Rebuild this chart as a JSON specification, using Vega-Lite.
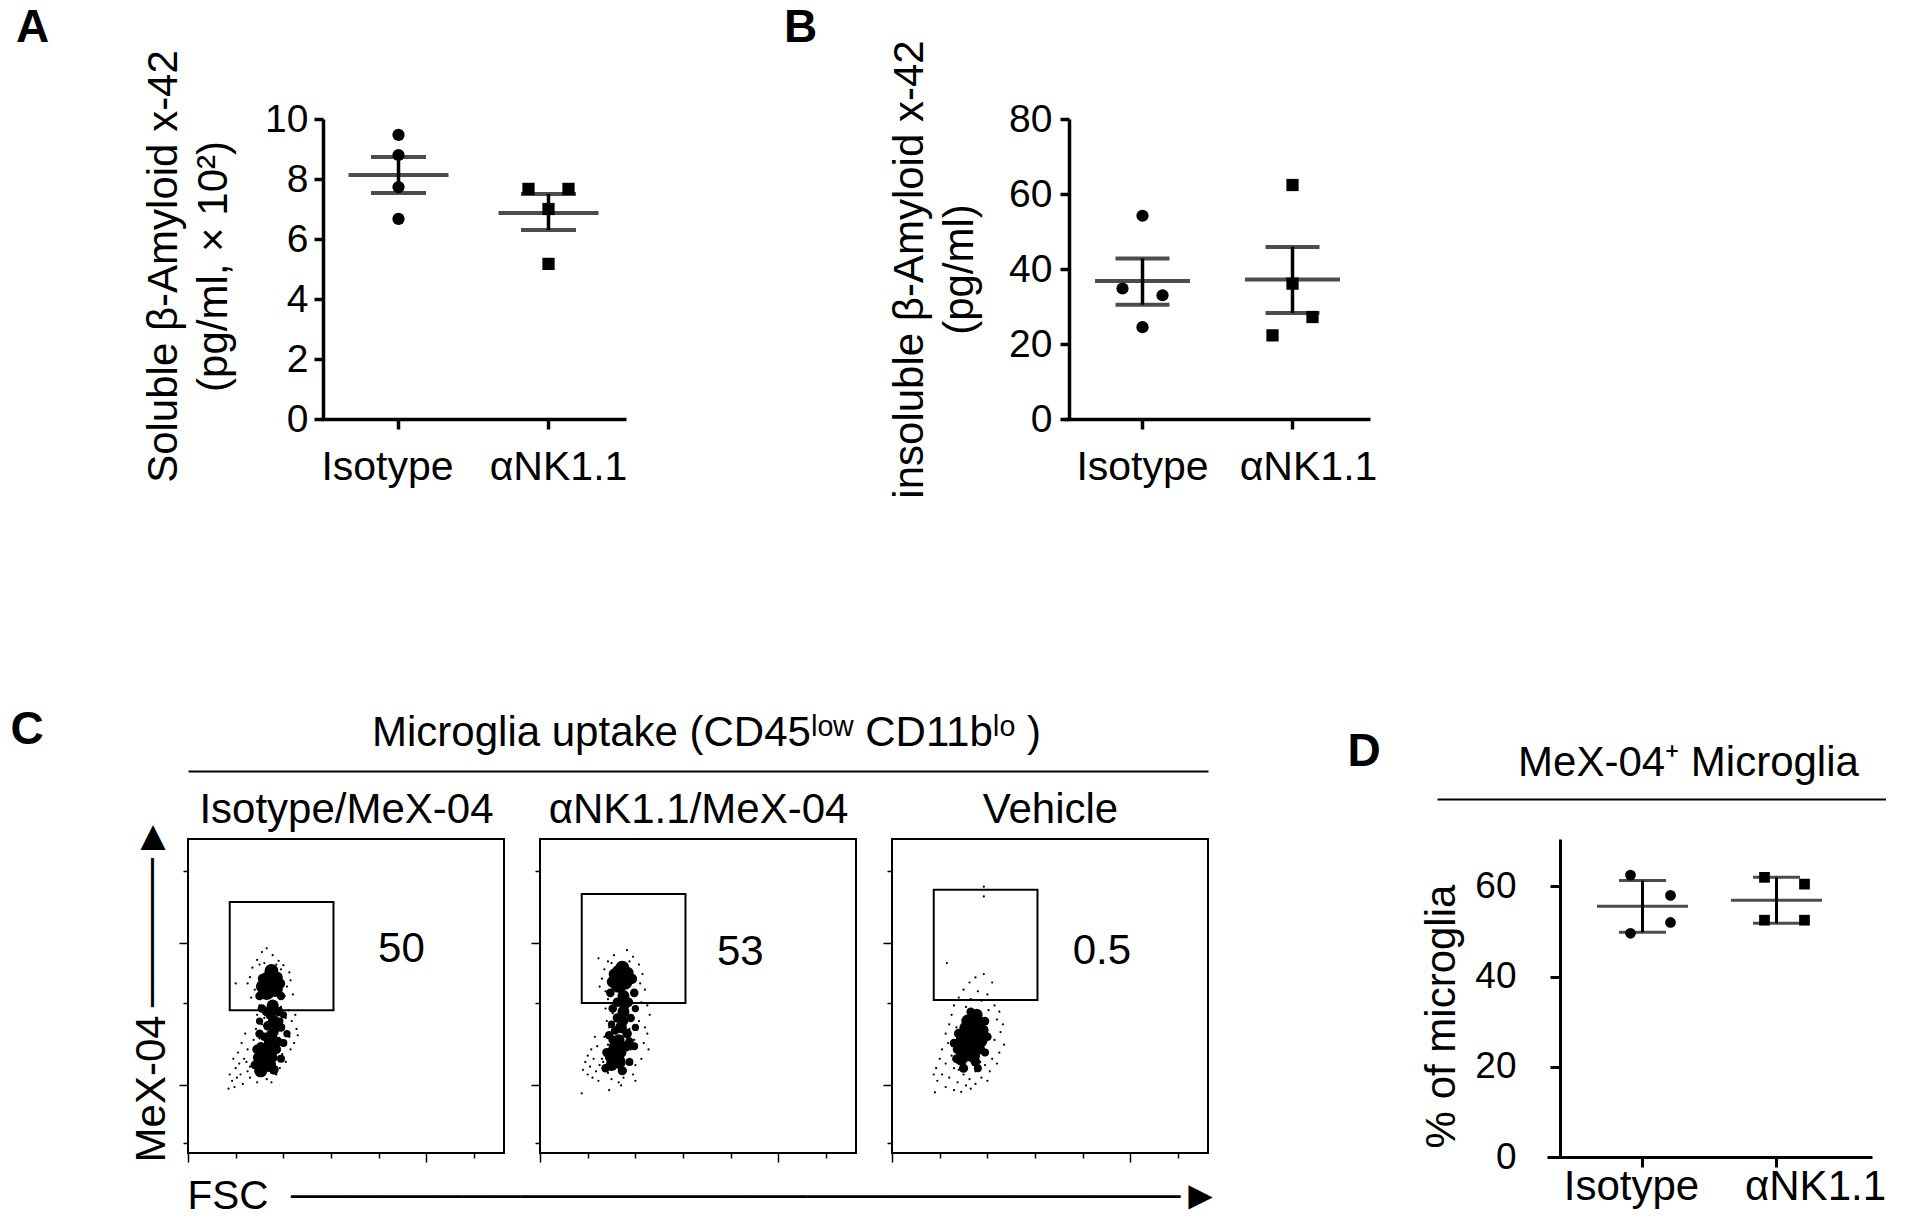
{
  "$schema": "https://vega.github.io/schema/vega-lite/v6.json",
  "background": "white",
  "padding": {"left": 10, "top": 5, "right": 0, "bottom": 0},
  "config": {
    "font": "Liberation Sans",
    "view": {"stroke": null},
    "axis": {"grid": false, "domainColor": "black", "tickColor": "black", "labelColor": "black", "titleColor": "black", "titleFontWeight": "normal", "labelFont": "Liberation Sans", "titleFont": "Liberation Sans"},
    "title": {"color": "black", "font": "Liberation Sans"}
  },
  "datasets": {
    "ptsA": [
      {"g": "Isotype", "c": 0, "v": 9.47}, {"g": "Isotype", "c": 0, "v": 8.8}, {"g": "Isotype", "c": 0, "v": 7.73}, {"g": "Isotype", "c": 0, "v": 6.67},
      {"g": "αNK1.1", "c": -1, "v": 7.67}, {"g": "αNK1.1", "c": 1, "v": 7.67}, {"g": "αNK1.1", "c": 0, "v": 7.0}, {"g": "αNK1.1", "c": 0, "v": 5.17}
    ],
    "sumA": [
      {"g": "Isotype", "mean": 8.13, "lo": 7.53, "hi": 8.73},
      {"g": "αNK1.1", "mean": 6.87, "lo": 6.3, "hi": 7.5}
    ],
    "ptsB": [
      {"g": "Isotype", "c": 0, "v": 54.2}, {"g": "Isotype", "c": -1, "v": 34.8}, {"g": "Isotype", "c": 1, "v": 33.0}, {"g": "Isotype", "c": 0, "v": 24.5},
      {"g": "αNK1.1", "c": 0, "v": 62.4}, {"g": "αNK1.1", "c": 0, "v": 36.1}, {"g": "αNK1.1", "c": 1, "v": 27.2}, {"g": "αNK1.1", "c": -1, "v": 22.3}
    ],
    "sumB": [
      {"g": "Isotype", "mean": 36.8, "lo": 30.5, "hi": 42.8},
      {"g": "αNK1.1", "mean": 37.2, "lo": 28.3, "hi": 45.9}
    ],
    "ptsD": [
      {"g": "Isotype", "c": -1, "v": 62.5}, {"g": "Isotype", "c": 1, "v": 58.0}, {"g": "Isotype", "c": 1, "v": 52.0}, {"g": "Isotype", "c": -1, "v": 49.6},
      {"g": "αNK1.1", "c": -1, "v": 62.0}, {"g": "αNK1.1", "c": 1, "v": 60.5}, {"g": "αNK1.1", "c": -1, "v": 52.5}, {"g": "αNK1.1", "c": 1, "v": 52.5}
    ],
    "sumD": [
      {"g": "Isotype", "mean": 55.6, "lo": 49.8, "hi": 61.3},
      {"g": "αNK1.1", "mean": 56.9, "lo": 51.8, "hi": 62.0}
    ],
    "gates": [
      {"p": "iso", "f1": 35, "f2": 122, "m1": 455, "m2": 799, "lf": 179, "lm": 650, "pct": "50"},
      {"p": "nk", "f1": 35, "f2": 122, "m1": 478, "m2": 825, "lf": 168, "lm": 640, "pct": "53"},
      {"p": "veh", "f1": 35, "f2": 122, "m1": 487, "m2": 838, "lf": 176, "lm": 643, "pct": "0.5"}
    ],
    "blobs": [
      {"p": "iso", "f": 69, "m": 545, "n": 50}, {"p": "iso", "f": 66, "m": 515, "n": 30}, {"p": "iso", "f": 73, "m": 522, "n": 25}, {"p": "iso", "f": 70, "m": 580, "n": 20}, {"p": "iso", "f": 75, "m": 560, "n": 12}, {"p": "iso", "f": 63, "m": 555, "n": 12}, {"p": "iso", "f": 62, "m": 530, "n": 15}, {"p": "iso", "f": 77, "m": 540, "n": 12},
      {"p": "iso", "f": 71, "m": 470, "n": 15}, {"p": "iso", "f": 76, "m": 450, "n": 10}, {"p": "iso", "f": 66, "m": 450, "n": 10}, {"p": "iso", "f": 72, "m": 420, "n": 15}, {"p": "iso", "f": 78, "m": 400, "n": 8}, {"p": "iso", "f": 67, "m": 405, "n": 10}, {"p": "iso", "f": 70, "m": 375, "n": 14}, {"p": "iso", "f": 75, "m": 355, "n": 10}, {"p": "iso", "f": 64, "m": 370, "n": 8},
      {"p": "iso", "f": 62, "m": 460, "n": 8}, {"p": "iso", "f": 80, "m": 440, "n": 6}, {"p": "iso", "f": 60, "m": 420, "n": 6}, {"p": "iso", "f": 83, "m": 380, "n": 6}, {"p": "iso", "f": 61, "m": 340, "n": 8}, {"p": "iso", "f": 74, "m": 330, "n": 10}, {"p": "iso", "f": 77, "m": 420, "n": 6}, {"p": "iso", "f": 69, "m": 440, "n": 10}, {"p": "iso", "f": 73, "m": 395, "n": 10}, {"p": "iso", "f": 68, "m": 350, "n": 12},
      {"p": "iso", "f": 60, "m": 500, "n": 8}, {"p": "iso", "f": 78, "m": 500, "n": 8}, {"p": "iso", "f": 60, "m": 380, "n": 8}, {"p": "iso", "f": 80, "m": 350, "n": 7}, {"p": "iso", "f": 58, "m": 330, "n": 10}, {"p": "iso", "f": 78, "m": 300, "n": 7}, {"p": "iso", "f": 56, "m": 280, "n": 8}, {"p": "iso", "f": 72, "m": 265, "n": 10},
      {"p": "iso", "f": 66, "m": 320, "n": 30}, {"p": "iso", "f": 63, "m": 290, "n": 40}, {"p": "iso", "f": 68, "m": 280, "n": 20}, {"p": "iso", "f": 61, "m": 262, "n": 18}, {"p": "iso", "f": 70, "m": 305, "n": 15}, {"p": "iso", "f": 58, "m": 305, "n": 8},
      {"p": "nk", "f": 68, "m": 565, "n": 50}, {"p": "nk", "f": 66, "m": 538, "n": 30}, {"p": "nk", "f": 71, "m": 545, "n": 25}, {"p": "nk", "f": 69, "m": 590, "n": 20}, {"p": "nk", "f": 74, "m": 575, "n": 12}, {"p": "nk", "f": 62, "m": 570, "n": 12}, {"p": "nk", "f": 61, "m": 545, "n": 15}, {"p": "nk", "f": 77, "m": 555, "n": 12},
      {"p": "nk", "f": 70, "m": 500, "n": 15}, {"p": "nk", "f": 74, "m": 480, "n": 10}, {"p": "nk", "f": 65, "m": 480, "n": 10}, {"p": "nk", "f": 70, "m": 450, "n": 15}, {"p": "nk", "f": 76, "m": 430, "n": 8}, {"p": "nk", "f": 65, "m": 430, "n": 10}, {"p": "nk", "f": 68, "m": 400, "n": 14}, {"p": "nk", "f": 73, "m": 380, "n": 10}, {"p": "nk", "f": 63, "m": 390, "n": 8}, {"p": "nk", "f": 66, "m": 360, "n": 14},
      {"p": "nk", "f": 61, "m": 460, "n": 8}, {"p": "nk", "f": 80, "m": 460, "n": 6}, {"p": "nk", "f": 60, "m": 410, "n": 6}, {"p": "nk", "f": 80, "m": 400, "n": 6}, {"p": "nk", "f": 71, "m": 470, "n": 10}, {"p": "nk", "f": 75, "m": 355, "n": 8}, {"p": "nk", "f": 61, "m": 360, "n": 8}, {"p": "nk", "f": 70, "m": 420, "n": 10}, {"p": "nk", "f": 72, "m": 340, "n": 12},
      {"p": "nk", "f": 59, "m": 510, "n": 8}, {"p": "nk", "f": 79, "m": 510, "n": 8}, {"p": "nk", "f": 58, "m": 375, "n": 8}, {"p": "nk", "f": 79, "m": 340, "n": 7}, {"p": "nk", "f": 56, "m": 320, "n": 9}, {"p": "nk", "f": 75, "m": 290, "n": 7}, {"p": "nk", "f": 55, "m": 270, "n": 8}, {"p": "nk", "f": 69, "m": 262, "n": 9},
      {"p": "nk", "f": 64, "m": 335, "n": 25}, {"p": "nk", "f": 62, "m": 310, "n": 35}, {"p": "nk", "f": 66, "m": 290, "n": 20}, {"p": "nk", "f": 60, "m": 280, "n": 15}, {"p": "nk", "f": 68, "m": 320, "n": 12}, {"p": "nk", "f": 59, "m": 300, "n": 8},
      {"p": "veh", "f": 67, "m": 380, "n": 70}, {"p": "veh", "f": 65, "m": 345, "n": 50}, {"p": "veh", "f": 70, "m": 410, "n": 40}, {"p": "veh", "f": 62, "m": 320, "n": 35}, {"p": "veh", "f": 73, "m": 360, "n": 30}, {"p": "veh", "f": 60, "m": 360, "n": 25},
      {"p": "veh", "f": 71, "m": 440, "n": 15}, {"p": "veh", "f": 58, "m": 300, "n": 18}, {"p": "veh", "f": 76, "m": 390, "n": 15}, {"p": "veh", "f": 64, "m": 420, "n": 20}, {"p": "veh", "f": 68, "m": 310, "n": 20}, {"p": "veh", "f": 55, "m": 330, "n": 10},
      {"p": "veh", "f": 56, "m": 380, "n": 10}, {"p": "veh", "f": 78, "m": 420, "n": 8}, {"p": "veh", "f": 74, "m": 330, "n": 10}, {"p": "veh", "f": 61, "m": 400, "n": 12}, {"p": "veh", "f": 66, "m": 450, "n": 8}, {"p": "veh", "f": 70, "m": 290, "n": 10},
      {"p": "veh", "f": 52, "m": 350, "n": 8}, {"p": "veh", "f": 80, "m": 370, "n": 8}, {"p": "veh", "f": 54, "m": 300, "n": 8}, {"p": "veh", "f": 78, "m": 320, "n": 7}, {"p": "veh", "f": 60, "m": 270, "n": 9}, {"p": "veh", "f": 72, "m": 270, "n": 7}
    ],
    "specks": [
      {"p": "iso", "f": 62, "m": 640}, {"p": "iso", "f": 66, "m": 652}, {"p": "iso", "f": 71, "m": 630}, {"p": "iso", "f": 58, "m": 615}, {"p": "iso", "f": 76, "m": 612}, {"p": "iso", "f": 80, "m": 598}, {"p": "iso", "f": 54, "m": 590}, {"p": "iso", "f": 85, "m": 575}, {"p": "iso", "f": 60, "m": 600}, {"p": "iso", "f": 74, "m": 600}, {"p": "iso", "f": 52, "m": 560}, {"p": "iso", "f": 86, "m": 550}, {"p": "iso", "f": 83, "m": 530}, {"p": "iso", "f": 56, "m": 520}, {"p": "iso", "f": 88, "m": 505}, {"p": "iso", "f": 53, "m": 495}, {"p": "iso", "f": 81, "m": 500}, {"p": "iso", "f": 64, "m": 605}, {"p": "iso", "f": 78, "m": 585}, {"p": "iso", "f": 50, "m": 540}, {"p": "iso", "f": 40, "m": 540},
      {"p": "iso", "f": 60, "m": 470}, {"p": "iso", "f": 78, "m": 465}, {"p": "iso", "f": 84, "m": 455}, {"p": "iso", "f": 90, "m": 440}, {"p": "iso", "f": 58, "m": 440}, {"p": "iso", "f": 66, "m": 455}, {"p": "iso", "f": 87, "m": 420}, {"p": "iso", "f": 62, "m": 410}, {"p": "iso", "f": 80, "m": 400}, {"p": "iso", "f": 91, "m": 395}, {"p": "iso", "f": 57, "m": 395}, {"p": "iso", "f": 75, "m": 380}, {"p": "iso", "f": 85, "m": 370}, {"p": "iso", "f": 60, "m": 365}, {"p": "iso", "f": 89, "m": 350}, {"p": "iso", "f": 70, "m": 410}, {"p": "iso", "f": 64, "m": 430}, {"p": "iso", "f": 82, "m": 430}, {"p": "iso", "f": 77, "m": 345}, {"p": "iso", "f": 92, "m": 375}, {"p": "iso", "f": 55, "m": 360}, {"p": "iso", "f": 86, "m": 330}, {"p": "iso", "f": 72, "m": 370},
      {"p": "iso", "f": 55, "m": 330}, {"p": "iso", "f": 79, "m": 315}, {"p": "iso", "f": 82, "m": 290}, {"p": "iso", "f": 57, "m": 300}, {"p": "iso", "f": 77, "m": 270}, {"p": "iso", "f": 52, "m": 275}, {"p": "iso", "f": 74, "m": 250}, {"p": "iso", "f": 60, "m": 245}, {"p": "iso", "f": 66, "m": 235}, {"p": "iso", "f": 70, "m": 225}, {"p": "iso", "f": 58, "m": 225}, {"p": "iso", "f": 80, "m": 300},
      {"p": "iso", "f": 48, "m": 380}, {"p": "iso", "f": 45, "m": 350}, {"p": "iso", "f": 50, "m": 330}, {"p": "iso", "f": 42, "m": 320}, {"p": "iso", "f": 38, "m": 300}, {"p": "iso", "f": 47, "m": 300}, {"p": "iso", "f": 40, "m": 270}, {"p": "iso", "f": 35, "m": 250}, {"p": "iso", "f": 44, "m": 250}, {"p": "iso", "f": 50, "m": 260}, {"p": "iso", "f": 37, "m": 230}, {"p": "iso", "f": 46, "m": 220}, {"p": "iso", "f": 39, "m": 210}, {"p": "iso", "f": 34, "m": 205}, {"p": "iso", "f": 52, "m": 240}, {"p": "iso", "f": 43, "m": 285}, {"p": "iso", "f": 49, "m": 290}, {"p": "iso", "f": 41, "m": 240},
      {"p": "nk", "f": 73, "m": 646}, {"p": "nk", "f": 49, "m": 620}, {"p": "nk", "f": 62, "m": 630}, {"p": "nk", "f": 78, "m": 625}, {"p": "nk", "f": 57, "m": 610}, {"p": "nk", "f": 83, "m": 600}, {"p": "nk", "f": 54, "m": 585}, {"p": "nk", "f": 86, "m": 570}, {"p": "nk", "f": 52, "m": 555}, {"p": "nk", "f": 84, "m": 540}, {"p": "nk", "f": 88, "m": 520}, {"p": "nk", "f": 55, "m": 515}, {"p": "nk", "f": 81, "m": 510}, {"p": "nk", "f": 60, "m": 605}, {"p": "nk", "f": 75, "m": 610}, {"p": "nk", "f": 50, "m": 530},
      {"p": "nk", "f": 57, "m": 490}, {"p": "nk", "f": 85, "m": 480}, {"p": "nk", "f": 90, "m": 470}, {"p": "nk", "f": 55, "m": 460}, {"p": "nk", "f": 80, "m": 455}, {"p": "nk", "f": 92, "m": 440}, {"p": "nk", "f": 56, "m": 420}, {"p": "nk", "f": 83, "m": 420}, {"p": "nk", "f": 88, "m": 400}, {"p": "nk", "f": 58, "m": 400}, {"p": "nk", "f": 75, "m": 395}, {"p": "nk", "f": 90, "m": 380}, {"p": "nk", "f": 54, "m": 370}, {"p": "nk", "f": 79, "m": 360}, {"p": "nk", "f": 87, "m": 350}, {"p": "nk", "f": 57, "m": 345}, {"p": "nk", "f": 91, "m": 330}, {"p": "nk", "f": 76, "m": 330}, {"p": "nk", "f": 73, "m": 420}, {"p": "nk", "f": 61, "m": 445},
      {"p": "nk", "f": 55, "m": 320}, {"p": "nk", "f": 75, "m": 300}, {"p": "nk", "f": 80, "m": 280}, {"p": "nk", "f": 53, "m": 290}, {"p": "nk", "f": 72, "m": 265}, {"p": "nk", "f": 57, "m": 255}, {"p": "nk", "f": 70, "m": 240}, {"p": "nk", "f": 60, "m": 235}, {"p": "nk", "f": 66, "m": 225}, {"p": "nk", "f": 78, "m": 250}, {"p": "nk", "f": 85, "m": 300}, {"p": "nk", "f": 68, "m": 215},
      {"p": "nk", "f": 46, "m": 370}, {"p": "nk", "f": 48, "m": 340}, {"p": "nk", "f": 43, "m": 330}, {"p": "nk", "f": 40, "m": 310}, {"p": "nk", "f": 45, "m": 300}, {"p": "nk", "f": 38, "m": 290}, {"p": "nk", "f": 42, "m": 275}, {"p": "nk", "f": 50, "m": 280}, {"p": "nk", "f": 36, "m": 265}, {"p": "nk", "f": 47, "m": 260}, {"p": "nk", "f": 40, "m": 250}, {"p": "nk", "f": 44, "m": 240}, {"p": "nk", "f": 35, "m": 190}, {"p": "nk", "f": 52, "m": 300}, {"p": "nk", "f": 49, "m": 230}, {"p": "nk", "f": 58, "m": 200}, {"p": "nk", "f": 80, "m": 230},
      {"p": "veh", "f": 77, "m": 848}, {"p": "veh", "f": 77, "m": 817}, {"p": "veh", "f": 46, "m": 605}, {"p": "veh", "f": 77, "m": 570}, {"p": "veh", "f": 70, "m": 559}, {"p": "veh", "f": 65, "m": 543}, {"p": "veh", "f": 84, "m": 543}, {"p": "veh", "f": 60, "m": 520}, {"p": "veh", "f": 72, "m": 515}, {"p": "veh", "f": 80, "m": 505}, {"p": "veh", "f": 56, "m": 495}, {"p": "veh", "f": 66, "m": 490}, {"p": "veh", "f": 75, "m": 485}, {"p": "veh", "f": 86, "m": 470}, {"p": "veh", "f": 52, "m": 470}, {"p": "veh", "f": 62, "m": 465}, {"p": "veh", "f": 90, "m": 450}, {"p": "veh", "f": 81, "m": 455}, {"p": "veh", "f": 50, "m": 440}, {"p": "veh", "f": 88, "m": 425},
      {"p": "veh", "f": 93, "m": 410}, {"p": "veh", "f": 48, "m": 410}, {"p": "veh", "f": 54, "m": 400}, {"p": "veh", "f": 91, "m": 385}, {"p": "veh", "f": 45, "m": 380}, {"p": "veh", "f": 86, "m": 360}, {"p": "veh", "f": 94, "m": 345}, {"p": "veh", "f": 47, "m": 350}, {"p": "veh", "f": 42, "m": 330}, {"p": "veh", "f": 90, "m": 320}, {"p": "veh", "f": 50, "m": 310}, {"p": "veh", "f": 84, "m": 300}, {"p": "veh", "f": 40, "m": 300}, {"p": "veh", "f": 45, "m": 285}, {"p": "veh", "f": 78, "m": 280}, {"p": "veh", "f": 88, "m": 285}, {"p": "veh", "f": 37, "m": 270}, {"p": "veh", "f": 52, "m": 270}, {"p": "veh", "f": 70, "m": 260}, {"p": "veh", "f": 82, "m": 260},
      {"p": "veh", "f": 42, "m": 250}, {"p": "veh", "f": 60, "m": 250}, {"p": "veh", "f": 48, "m": 240}, {"p": "veh", "f": 65, "m": 235}, {"p": "veh", "f": 75, "m": 240}, {"p": "veh", "f": 38, "m": 230}, {"p": "veh", "f": 55, "m": 225}, {"p": "veh", "f": 62, "m": 215}, {"p": "veh", "f": 70, "m": 220}, {"p": "veh", "f": 45, "m": 210}, {"p": "veh", "f": 52, "m": 200}, {"p": "veh", "f": 58, "m": 195}, {"p": "veh", "f": 36, "m": 193}, {"p": "veh", "f": 66, "m": 205}, {"p": "veh", "f": 80, "m": 230}, {"p": "veh", "f": 56, "m": 265}, {"p": "veh", "f": 74, "m": 290}, {"p": "veh", "f": 35, "m": 250}
    ]
  },
  "vconcat": [
    {
      "hconcat": [
        {
          "width": 311, "height": 300,
          "data": {"values": []},
          "mark": "point",
          "title": {"text": "A", "fontSize": 46, "fontWeight": "bold", "anchor": "start", "frame": "group", "dx": 6, "offset": 31, "baseline": "alphabetic"}
        },
        {
          "width": 305, "height": 300,
          "encoding": {
            "x": {"field": "g", "type": "nominal", "sort": null, "scale": {"domain": ["Isotype", "αNK1.1"], "paddingInner": 0, "paddingOuter": 0.0167},
              "axis": {"title": null, "labelAngle": 0, "labelFontSize": 41, "labelPadding": 18, "tickSize": 10, "tickWidth": 3.5, "domainWidth": 3.5,
                "labelOffset": {"condition": {"test": "datum.value === 'Isotype'", "value": -11}, "value": 10}}}
          },
          "layer": [
            {"data": {"name": "ptsA"}, "mark": {"type": "point", "filled": true, "opacity": 1, "color": "black", "size": 150},
              "encoding": {
                "xOffset": {"field": "c", "type": "nominal", "scale": {"type": "point", "domain": [-1, 0, 1], "range": [55, 95], "padding": 0}},
                "y": {"field": "v", "type": "quantitative", "scale": {"domain": [0, 10]},
                  "axis": {"values": [0, 2, 4, 6, 8, 10], "offset": -2, "tickSize": 9, "tickWidth": 3.5, "domainWidth": 3.5, "labelFontSize": 39, "labelPadding": 6,
                    "title": ["Soluble β-Amyloid x-42", "(pg/ml,  × 10²)"], "titleFontSize": 42, "titleLineHeight": 50, "titleX": -147, "titleY": 147, "titleAlign": "center", "titleBaseline": "alphabetic", "titleAngle": 270}},
                "shape": {"field": "g", "type": "nominal", "scale": {"domain": ["Isotype", "αNK1.1"], "range": ["circle", "square"]}, "legend": null}
              }},
            {"data": {"name": "sumA"}, "mark": {"type": "rule", "strokeWidth": 3.5, "color": "black"},
              "encoding": {"y": {"field": "lo", "type": "quantitative", "scale": {"domain": [0, 10]}}, "y2": {"field": "hi"}}},
            {"data": {"name": "sumA"}, "mark": {"type": "tick", "size": 100, "thickness": 4, "color": "black"},
              "encoding": {"y": {"field": "mean", "type": "quantitative", "scale": {"domain": [0, 10]}}}},
            {"data": {"name": "sumA"}, "mark": {"type": "tick", "size": 55, "thickness": 4, "color": "black"},
              "encoding": {"y": {"field": "lo", "type": "quantitative", "scale": {"domain": [0, 10]}}}},
            {"data": {"name": "sumA"}, "mark": {"type": "tick", "size": 55, "thickness": 4, "color": "black"},
              "encoding": {"y": {"field": "hi", "type": "quantitative", "scale": {"domain": [0, 10]}}}}
          ]
        },
        {
          "width": 439, "height": 300,
          "data": {"values": []},
          "mark": "point",
          "title": {"text": "B", "fontSize": 46, "fontWeight": "bold", "anchor": "start", "frame": "group", "dx": 158, "offset": 31, "baseline": "alphabetic"}
        },
        {
          "width": 305, "height": 300,
          "encoding": {
            "x": {"field": "g", "type": "nominal", "sort": null, "scale": {"domain": ["Isotype", "αNK1.1"], "paddingInner": 0, "paddingOuter": 0.0167},
              "axis": {"title": null, "labelAngle": 0, "labelFontSize": 41, "labelPadding": 18, "tickSize": 10, "tickWidth": 3.5, "domainWidth": 3.5,
                "labelOffset": {"condition": {"test": "datum.value === 'Isotype'", "value": 0}, "value": 16}}}
          },
          "layer": [
            {"data": {"name": "ptsB"}, "mark": {"type": "point", "filled": true, "opacity": 1, "color": "black", "size": 150},
              "encoding": {
                "xOffset": {"field": "c", "type": "nominal", "scale": {"type": "point", "domain": [-1, 0, 1], "range": [65, 85], "padding": 0}},
                "y": {"field": "v", "type": "quantitative", "scale": {"domain": [0, 80]},
                  "axis": {"values": [0, 20, 40, 60, 80], "offset": -4, "tickSize": 9, "tickWidth": 3.5, "domainWidth": 3.5, "labelFontSize": 39, "labelPadding": 8,
                    "title": ["insoluble β-Amyloid x-42", "(pg/ml)"], "titleFontSize": 42, "titleLineHeight": 50, "titleX": -147, "titleY": 150, "titleAlign": "center", "titleBaseline": "alphabetic", "titleAngle": 270}},
                "shape": {"field": "g", "type": "nominal", "scale": {"domain": ["Isotype", "αNK1.1"], "range": ["circle", "square"]}, "legend": null}
              }},
            {"data": {"name": "sumB"}, "mark": {"type": "rule", "strokeWidth": 3.5, "color": "black"},
              "encoding": {"y": {"field": "lo", "type": "quantitative", "scale": {"domain": [0, 80]}}, "y2": {"field": "hi"}}},
            {"data": {"name": "sumB"}, "mark": {"type": "tick", "size": 95, "thickness": 4, "color": "black"},
              "encoding": {"y": {"field": "mean", "type": "quantitative", "scale": {"domain": [0, 80]}}}},
            {"data": {"name": "sumB"}, "mark": {"type": "tick", "size": 54, "thickness": 4, "color": "black"},
              "encoding": {"y": {"field": "lo", "type": "quantitative", "scale": {"domain": [0, 80]}}}},
            {"data": {"name": "sumB"}, "mark": {"type": "tick", "size": 54, "thickness": 4, "color": "black"},
              "encoding": {"y": {"field": "hi", "type": "quantitative", "scale": {"domain": [0, 80]}}}}
          ]
        }
      ],
      "spacing": 0,
      "bounds": "flush"
    },
    {
      "hconcat": [
        {
          "width": 142, "height": 314,
          "data": {"values": [{}]},
          "mark": {"type": "point", "opacity": 0},
          "encoding": {
            "x": {"datum": 0, "type": "quantitative", "scale": {"domain": [0, 1], "range": [178, 1198]},
              "axis": {"orient": "top", "offset": 68, "domain": true, "domainWidth": 2, "ticks": false, "labels": false, "grid": false,
                "title": "Microglia uptake (CD45\u02e1\u1d52\u02b7 CD11b\u02e1\u1d52 )", "titleFontSize": 42, "titleX": 696, "titleY": -26, "titleAlign": "center", "titleBaseline": "alphabetic", "titleAngle": 0}},
            "y": {"datum": 0, "type": "quantitative", "scale": {"domain": [0, 1]},
              "axis": {"domain": false, "ticks": false, "labels": false, "grid": false,
                "title": "C", "titleFontSize": 46, "titleFontWeight": "bold", "titleX": 0, "titleY": -96, "titleAlign": "left", "titleBaseline": "alphabetic", "titleAngle": 0}}
          }
        },
        {
          "width": 316, "height": 314,
          "view": {"stroke": "black", "strokeWidth": 2},
          "layer": [
            {"data": {"name": "specks"}, "transform": [{"filter": "datum.p === 'iso'"}], "mark": {"type": "circle", "size": 5, "color": "black", "opacity": 1},
              "encoding": {
                "x": {"field": "f", "type": "quantitative", "scale": {"domain": [0, 265], "nice": false, "zero": false},
                  "axis": {"values": [0, 10, 20, 30, 40, 50, 60, 70, 80, 90, 100, 110, 120, 130, 140, 150, 160, 170, 180, 190, 200, 210, 220, 230, 240, 250, 260], "labels": false, "domain": false, "tickWidth": 1.5,
                    "tickSize": {"condition": {"test": "datum.value % 50 === 0", "value": 9}, "value": 5},
                    "title": "Isotype/MeX-04", "titleFontSize": 42, "titleX": 158, "titleY": -331, "titleAlign": "center", "titleBaseline": "alphabetic", "titleAngle": 0}},
                "y": {"field": "m", "type": "quantitative", "scale": {"domain": [0, 1000], "nice": false, "zero": false},
                  "axis": {"values": [32, 64, 99, 131, 159, 182, 197, 207, 217, 226, 236, 252, 274, 303, 344, 395, 478, 525, 561, 586, 608, 627, 643, 656, 669, 742, 783, 812, 834, 854, 869, 885, 898, 908, 981], "labels": false, "domain": false, "tickWidth": 1.5,
                    "tickSize": {"condition": {"test": "indexof([64,217,395,669,908], datum.value) >= 0", "value": 9}, "value": 5},
                    "title": "MeX-04\u2009\u2500\u2500\u2500\u2500\u2500\u25ba", "titleFontSize": 42, "titleX": -24, "titleY": 150, "titleAlign": "center", "titleBaseline": "alphabetic", "titleAngle": 270}}
              }},
            {"data": {"name": "blobs"}, "transform": [{"filter": "datum.p === 'iso'"}], "mark": {"type": "circle", "color": "black", "opacity": 1},
              "encoding": {
                "x": {"field": "f", "type": "quantitative", "scale": {"domain": [0, 265], "nice": false, "zero": false}},
                "y": {"field": "m", "type": "quantitative", "scale": {"domain": [0, 1000], "nice": false, "zero": false}},
                "size": {"field": "n", "type": "quantitative", "scale": {"domain": [1, 100], "range": [3, 1000]}, "legend": null}
              }},
            {"data": {"name": "gates"}, "transform": [{"filter": "datum.p === 'iso'"}], "mark": {"type": "rect", "fillOpacity": 0, "stroke": "black", "strokeWidth": 2},
              "encoding": {
                "x": {"field": "f1", "type": "quantitative", "scale": {"domain": [0, 265], "nice": false, "zero": false}}, "x2": {"field": "f2"},
                "y": {"field": "m1", "type": "quantitative", "scale": {"domain": [0, 1000], "nice": false, "zero": false}}, "y2": {"field": "m2"}
              }},
            {"data": {"name": "gates"}, "transform": [{"filter": "datum.p === 'iso'"}], "mark": {"type": "text", "fontSize": 42, "color": "black", "align": "center", "baseline": "middle"},
              "encoding": {
                "x": {"field": "lf", "type": "quantitative", "scale": {"domain": [0, 265], "nice": false, "zero": false}},
                "y": {"field": "lm", "type": "quantitative", "scale": {"domain": [0, 1000], "nice": false, "zero": false}},
                "text": {"field": "pct", "type": "nominal"}
              }}
          ]
        },
        {
          "width": 316, "height": 314,
          "view": {"stroke": "black", "strokeWidth": 2},
          "layer": [
            {"data": {"name": "specks"}, "transform": [{"filter": "datum.p === 'nk'"}], "mark": {"type": "circle", "size": 5, "color": "black", "opacity": 1},
              "encoding": {
                "x": {"field": "f", "type": "quantitative", "scale": {"domain": [0, 265], "nice": false, "zero": false},
                  "axis": {"values": [0, 10, 20, 30, 40, 50, 60, 70, 80, 90, 100, 110, 120, 130, 140, 150, 160, 170, 180, 190, 200, 210, 220, 230, 240, 250, 260], "labels": false, "domain": false, "tickWidth": 1.5,
                    "tickSize": {"condition": {"test": "datum.value % 50 === 0", "value": 9}, "value": 5},
                    "title": "FSC\u00a0\u00a0\u2500\u2500\u2500\u2500\u2500\u2500\u2500\u2500\u2500\u2500\u2500\u2500\u2500\u2500\u2500\u2500\u2500\u2500\u2500\u2500\u2500\u2500\u2500\u2500\u2500\u2500\u2500\u2500\u2500\u2500\u2500\u25ba", "titleFontSize": 40.5, "titleX": -353, "titleY": 55, "titleAlign": "left", "titleBaseline": "alphabetic", "titleAngle": 0}},
                "y": {"field": "m", "type": "quantitative", "scale": {"domain": [0, 1000], "nice": false, "zero": false},
                  "axis": {"values": [32, 64, 99, 131, 159, 182, 197, 207, 217, 226, 236, 252, 274, 303, 344, 395, 478, 525, 561, 586, 608, 627, 643, 656, 669, 742, 783, 812, 834, 854, 869, 885, 898, 908, 981], "labels": false, "domain": false, "tickWidth": 1.5,
                    "tickSize": {"condition": {"test": "indexof([64,217,395,669,908], datum.value) >= 0", "value": 9}, "value": 5},
                    "title": "αNK1.1/MeX-04", "titleFontSize": 42, "titleX": 158, "titleY": -17, "titleAlign": "center", "titleBaseline": "alphabetic", "titleAngle": 0}}
              }},
            {"data": {"name": "blobs"}, "transform": [{"filter": "datum.p === 'nk'"}], "mark": {"type": "circle", "color": "black", "opacity": 1},
              "encoding": {
                "x": {"field": "f", "type": "quantitative", "scale": {"domain": [0, 265], "nice": false, "zero": false}},
                "y": {"field": "m", "type": "quantitative", "scale": {"domain": [0, 1000], "nice": false, "zero": false}},
                "size": {"field": "n", "type": "quantitative", "scale": {"domain": [1, 100], "range": [3, 1000]}, "legend": null}
              }},
            {"data": {"name": "gates"}, "transform": [{"filter": "datum.p === 'nk'"}], "mark": {"type": "rect", "fillOpacity": 0, "stroke": "black", "strokeWidth": 2},
              "encoding": {
                "x": {"field": "f1", "type": "quantitative", "scale": {"domain": [0, 265], "nice": false, "zero": false}}, "x2": {"field": "f2"},
                "y": {"field": "m1", "type": "quantitative", "scale": {"domain": [0, 1000], "nice": false, "zero": false}}, "y2": {"field": "m2"}
              }},
            {"data": {"name": "gates"}, "transform": [{"filter": "datum.p === 'nk'"}], "mark": {"type": "text", "fontSize": 42, "color": "black", "align": "center", "baseline": "middle"},
              "encoding": {
                "x": {"field": "lf", "type": "quantitative", "scale": {"domain": [0, 265], "nice": false, "zero": false}},
                "y": {"field": "lm", "type": "quantitative", "scale": {"domain": [0, 1000], "nice": false, "zero": false}},
                "text": {"field": "pct", "type": "nominal"}
              }}
          ]
        },
        {
          "width": 316, "height": 314,
          "view": {"stroke": "black", "strokeWidth": 2},
          "layer": [
            {"data": {"name": "specks"}, "transform": [{"filter": "datum.p === 'veh'"}], "mark": {"type": "circle", "size": 5, "color": "black", "opacity": 1},
              "encoding": {
                "x": {"field": "f", "type": "quantitative", "scale": {"domain": [0, 265], "nice": false, "zero": false},
                  "axis": {"values": [0, 10, 20, 30, 40, 50, 60, 70, 80, 90, 100, 110, 120, 130, 140, 150, 160, 170, 180, 190, 200, 210, 220, 230, 240, 250, 260], "labels": false, "domain": false, "tickWidth": 1.5,
                    "tickSize": {"condition": {"test": "datum.value % 50 === 0", "value": 9}, "value": 5}, "title": null}},
                "y": {"field": "m", "type": "quantitative", "scale": {"domain": [0, 1000], "nice": false, "zero": false},
                  "axis": {"values": [32, 64, 99, 131, 159, 182, 197, 207, 217, 226, 236, 252, 274, 303, 344, 395, 478, 525, 561, 586, 608, 627, 643, 656, 669, 742, 783, 812, 834, 854, 869, 885, 898, 908, 981], "labels": false, "domain": false, "tickWidth": 1.5,
                    "tickSize": {"condition": {"test": "indexof([64,217,395,669,908], datum.value) >= 0", "value": 9}, "value": 5},
                    "title": "Vehicle", "titleFontSize": 42, "titleX": 158, "titleY": -17, "titleAlign": "center", "titleBaseline": "alphabetic", "titleAngle": 0}}
              }},
            {"data": {"name": "blobs"}, "transform": [{"filter": "datum.p === 'veh'"}], "mark": {"type": "circle", "color": "black", "opacity": 1},
              "encoding": {
                "x": {"field": "f", "type": "quantitative", "scale": {"domain": [0, 265], "nice": false, "zero": false}},
                "y": {"field": "m", "type": "quantitative", "scale": {"domain": [0, 1000], "nice": false, "zero": false}},
                "size": {"field": "n", "type": "quantitative", "scale": {"domain": [1, 100], "range": [3, 1000]}, "legend": null}
              }},
            {"data": {"name": "gates"}, "transform": [{"filter": "datum.p === 'veh'"}], "mark": {"type": "rect", "fillOpacity": 0, "stroke": "black", "strokeWidth": 2},
              "encoding": {
                "x": {"field": "f1", "type": "quantitative", "scale": {"domain": [0, 265], "nice": false, "zero": false}}, "x2": {"field": "f2"},
                "y": {"field": "m1", "type": "quantitative", "scale": {"domain": [0, 1000], "nice": false, "zero": false}}, "y2": {"field": "m2"}
              }},
            {"data": {"name": "gates"}, "transform": [{"filter": "datum.p === 'veh'"}], "mark": {"type": "text", "fontSize": 42, "color": "black", "align": "center", "baseline": "middle"},
              "encoding": {
                "x": {"field": "lf", "type": "quantitative", "scale": {"domain": [0, 265], "nice": false, "zero": false}},
                "y": {"field": "lm", "type": "quantitative", "scale": {"domain": [0, 1000], "nice": false, "zero": false}},
                "text": {"field": "pct", "type": "nominal"}
              }}
          ]
        },
        {
          "width": 267, "height": 314,
          "data": {"values": [{}]},
          "mark": {"type": "point", "opacity": 0},
          "encoding": {
            "x": {"datum": 0, "type": "quantitative", "scale": {"domain": [0, 1], "range": [193, 674]},
              "axis": {"orient": "top", "offset": 40, "domain": true, "domainWidth": 2, "ticks": false, "labels": false, "grid": false,
                "title": "MeX-04\u207a Microglia", "titleFontSize": 42, "titleX": 444, "titleY": -24, "titleAlign": "center", "titleBaseline": "alphabetic", "titleAngle": 0}},
            "y": {"datum": 0, "type": "quantitative", "scale": {"domain": [0, 1]},
              "axis": {"domain": false, "ticks": false, "labels": false, "grid": false,
                "title": "D", "titleFontSize": 46, "titleFontWeight": "bold", "titleX": 103, "titleY": -74, "titleAlign": "left", "titleBaseline": "alphabetic", "titleAngle": 0}}
          }
        },
        {
          "width": 325, "height": 318,
          "encoding": {
            "x": {"field": "g", "type": "nominal", "sort": null, "scale": {"domain": ["Isotype", "αNK1.1"], "paddingInner": 0, "paddingOuter": 0.2127},
              "axis": {"title": null, "labelAngle": 0, "labelFontSize": 42, "labelPadding": -1, "tickSize": 10, "tickWidth": 3, "domainWidth": 3,
                "labelOffset": {"condition": {"test": "datum.value === 'Isotype'", "value": -11}, "value": 39}}}
          },
          "layer": [
            {"data": {"name": "ptsD"}, "mark": {"type": "point", "filled": true, "opacity": 1, "color": "black", "size": 115},
              "encoding": {
                "xOffset": {"field": "c", "type": "nominal", "scale": {"type": "point", "domain": [-1, 0, 1], "range": [57, 77], "padding": 0}},
                "y": {"field": "v", "type": "quantitative", "scale": {"domain": [0, 70.5]},
                  "axis": {"values": [0, 20, 40, 60], "offset": -13, "tickSize": 10, "tickWidth": 3, "domainWidth": 3, "labelFont": "Liberation Sans", "labelFontSize": 37, "labelPadding": 34,
                    "title": "% of microglia", "titleFontSize": 42, "titleX": -106, "titleY": 177, "titleAlign": "center", "titleBaseline": "alphabetic", "titleAngle": 270}},
                "shape": {"field": "g", "type": "nominal", "scale": {"domain": ["Isotype", "αNK1.1"], "range": ["circle", "square"]}, "legend": null}
              }},
            {"data": {"name": "sumD"}, "mark": {"type": "rule", "strokeWidth": 3, "color": "black"},
              "encoding": {"y": {"field": "lo", "type": "quantitative", "scale": {"domain": [0, 70.5]}}, "y2": {"field": "hi"}}},
            {"data": {"name": "sumD"}, "mark": {"type": "tick", "size": 91, "thickness": 3, "color": "black"},
              "encoding": {"y": {"field": "mean", "type": "quantitative", "scale": {"domain": [0, 70.5]}}}},
            {"data": {"name": "sumD"}, "mark": {"type": "tick", "size": 47, "thickness": 3, "color": "black"},
              "encoding": {"y": {"field": "lo", "type": "quantitative", "scale": {"domain": [0, 70.5]}}}},
            {"data": {"name": "sumD"}, "mark": {"type": "tick", "size": 47, "thickness": 3, "color": "black"},
              "encoding": {"y": {"field": "hi", "type": "quantitative", "scale": {"domain": [0, 70.5]}}}}
          ]
        }
      ],
      "spacing": 36,
      "bounds": "flush"
    }
  ],
  "spacing": 207,
  "bounds": "full"
}
